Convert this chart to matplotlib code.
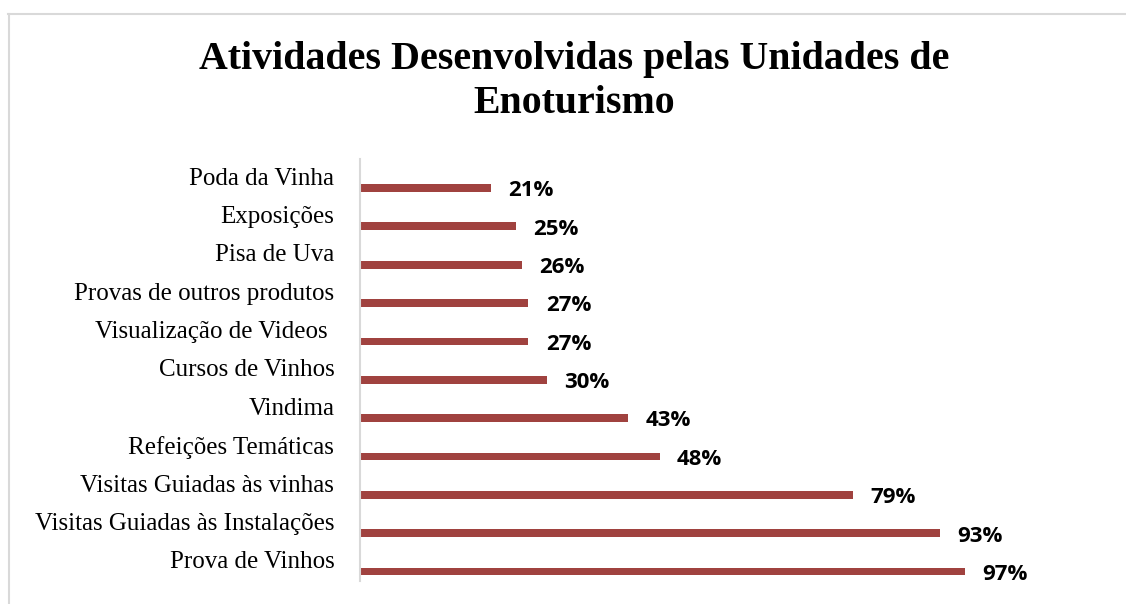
import matplotlib
matplotlib.use("Agg")
import matplotlib.pyplot as plt
from matplotlib.lines import Line2D
from matplotlib.transforms import ScaledTranslation

# Data: activities offered by wine-tourism units (share of units, %)
categories = [
    "Prova de Vinhos",
    "Visitas Guiadas às Instalações",
    "Visitas Guiadas às vinhas",
    "Refeições Temáticas",
    "Vindima",
    "Cursos de Vinhos",
    "Visualização de Videos ",
    "Provas de outros produtos",
    "Pisa de Uva",
    "Exposições",
    "Poda da Vinha",
]
values = [97, 93, 79, 48, 43, 30, 27, 27, 26, 25, 21]

title_lines = ["Atividades Desenvolvidas pelas Unidades de", "Enoturismo"]

W, H = 1126, 604
fig = plt.figure(figsize=(W / 100, H / 100), dpi=100)
fig.patch.set_facecolor("white")

# Plot area in pixel terms
left_px, right_px = 360, 984
top_px, bottom_px = 159, 581
ax = fig.add_axes([left_px / W, 1 - bottom_px / H,
                   (right_px - left_px) / W, (bottom_px - top_px) / H])

bar_color = "#A0423F"
slot_offset = 0.255   # bars sit in the lower part of each category slot
bar_h = 0.2

ypos = list(range(len(categories)))
ax.barh([y - slot_offset for y in ypos], values, height=bar_h,
        color=bar_color, edgecolor="none")

for y, v in zip(ypos, values):
    ax.annotate(f"{v}%", xy=(v, y - slot_offset), xytext=(12.5, -2),
                textcoords="offset points", ha="left", va="center",
                fontsize=16, fontweight="bold", family="Open Sans",
                color="black", annotation_clip=False)

ax.set_xlim(0, 100)
ax.set_ylim(-0.5, len(categories) - 0.5)
ax.set_yticks(ypos)
ax.set_yticklabels(categories, family="Liberation Serif", fontsize=18)
ax.tick_params(axis="y", length=0, pad=18.5)
ax.set_xticks([])
lift = ScaledTranslation(0, 2 / 100, fig.dpi_scale_trans)
for lbl in ax.get_yticklabels():
    lbl.set_transform(lbl.get_transform() + lift)

for side in ("top", "right", "bottom"):
    ax.spines[side].set_visible(False)
ax.spines["left"].set_color("#d9d9d9")
ax.spines["left"].set_linewidth(1.5)

# Two-line bold title
for line, base_px in zip(title_lines, (69, 113)):
    fig.text(574 / W, 1 - base_px / H, line, ha="center", va="baseline",
             family="Liberation Serif", fontweight="bold", fontsize=28.7)

# Chart-area frame (top and left edges)
fig.add_artist(Line2D([8 / W, 1], [1 - 13.5 / H, 1 - 13.5 / H],
                      transform=fig.transFigure, color="#d9d9d9", lw=1.5))
fig.add_artist(Line2D([8.5 / W, 8.5 / W], [0, 1 - 13.5 / H],
                      transform=fig.transFigure, color="#d9d9d9", lw=1.5))

fig.savefig("out.png", dpi=100, facecolor="white")
